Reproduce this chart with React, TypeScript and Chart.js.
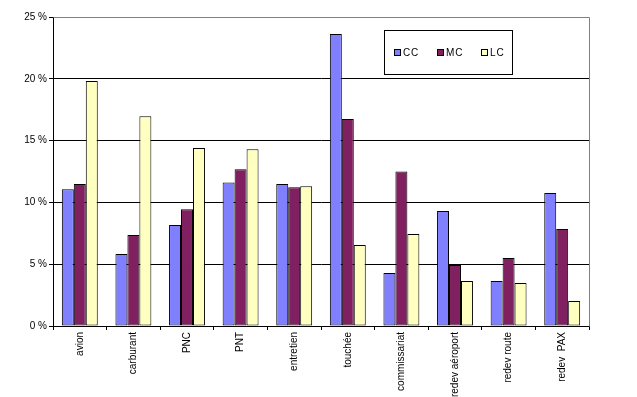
import React, { useEffect, useRef } from "react";
import { Chart, registerables } from "chart.js";

Chart.register(...registerables);

const categories = ["avion", "carburant", "PNC", "PNT", "entretien", "touchée", "commissariat", "redev aéroport", "redev route", "redev  PAX"];
const seriesCC = [11.06, 5.83, 8.17, 11.62, 11.49, 23.62, 4.29, 9.3, 3.64, 10.76];
const seriesMC = [11.49, 7.36, 9.44, 12.68, 11.22, 16.75, 12.51, 4.93, 5.5, 7.85];
const seriesLC = [19.82, 16.97, 14.4, 14.3, 11.3, 6.55, 7.44, 3.64, 3.48, 2.02];
const seriesNames = ["CC", "MC", "LC"];
const seriesColors = ["#8080FF", "#802060", "#FFFFC0"];

const FONT = "'Liberation Sans', Arial, sans-serif";

const framePlugin = {
  id: "frame",
  afterDatasetsDraw(chart: any) {
    const { ctx, chartArea } = chart;
    const { left, right, top, bottom } = chartArea;
    ctx.save();
    ctx.strokeStyle = "#808080";
    ctx.lineWidth = 1;
    ctx.beginPath();
    ctx.moveTo(Math.round(left) + 0.5, Math.round(top) + 0.5);
    ctx.lineTo(Math.round(right) + 0.5, Math.round(top) + 0.5);
    ctx.lineTo(Math.round(right) + 0.5, Math.round(bottom) + 0.5);
    ctx.stroke();
    ctx.restore();
  },
  afterDraw(chart: any) {
    const { ctx } = chart;
    ctx.save();
    const bx = 384, by = 30, bw = 128, bh = 44;
    ctx.fillStyle = "#ffffff";
    ctx.fillRect(bx, by, bw, bh);
    ctx.strokeStyle = "#000000";
    ctx.lineWidth = 1;
    ctx.strokeRect(bx + 0.5, by + 0.5, bw, bh);
    const itemX = [394, 437, 481];
    ctx.font = `10px ${FONT}`;
    ctx.textBaseline = "middle";
    chart.data.datasets.forEach((ds: any, i: number) => {
      const x = itemX[i];
      ctx.fillStyle = ds.backgroundColor;
      ctx.fillRect(x, 49, 6, 6);
      ctx.strokeStyle = "#000";
      ctx.strokeRect(x + 0.5, 49.5, 6, 6);
      ctx.fillStyle = "#000";
      const txt = ds.label.split("").join(String.fromCharCode(8202));
      ctx.fillText(txt, x + 9, 53);
    });
    ctx.restore();
  },
};

export default function App() {
  const ref = useRef<HTMLCanvasElement>(null);
  useEffect(() => {
    if (!ref.current) return;
    const data = [seriesCC, seriesMC, seriesLC];
    const chart = new Chart(ref.current, {
      type: "bar",
      data: {
        labels: categories,
        datasets: data.map((d, i) => ({
          label: seriesNames[i],
          data: d,
          backgroundColor: seriesColors[i],
          borderColor: "#000000",
          borderWidth: 1,
          borderSkipped: false,
          categoryPercentage: 0.67,
          barPercentage: 1,
        })),
      },
      options: {
        animation: false,
        responsive: false,
        maintainAspectRatio: false,
        layout: { padding: { top: 17, right: 48, left: 0, bottom: 0 } },
        plugins: {
          legend: { display: false },
          tooltip: { enabled: false },
        },
        scales: {
          x: {
            grid: {
              offset: true,
              drawOnChartArea: false,
              drawTicks: true,
              tickLength: 4,
              color: "#000000",
            },
            border: { color: "#000000", width: 1 },
            ticks: {
              color: "#000000",
              font: { family: FONT, size: 10 },
              minRotation: 90,
              maxRotation: 90,
              padding: 2,
              autoSkip: false,
            },
            afterFit(scale: any) {
              scale.height = 71;
            },
          },
          y: {
            min: 0,
            max: 25,
            ticks: {
              stepSize: 5,
              color: "#000000",
              font: { family: FONT, size: 10 },
              padding: 2,
              callback: (v: any) => `${v} %`,
            },
            grid: {
              color: (c: any) => (c.tick && c.tick.value === 25 ? "#808080" : "#000000"),
              tickColor: "#000000",
              tickLength: 4,
            },
            border: { color: "#000000", width: 1 },
            afterFit(scale: any) {
              scale.width = 53;
            },
          },
        },
      },
      plugins: [framePlugin],
    });
    return () => chart.destroy();
  }, []);
  return (
    <div style={{ position: "fixed", left: 0, top: 0, width: 637, height: 397, background: "#fff" }}>
      <canvas ref={ref} width={637} height={397} style={{ width: 637, height: 397 }} />
    </div>
  );
}
